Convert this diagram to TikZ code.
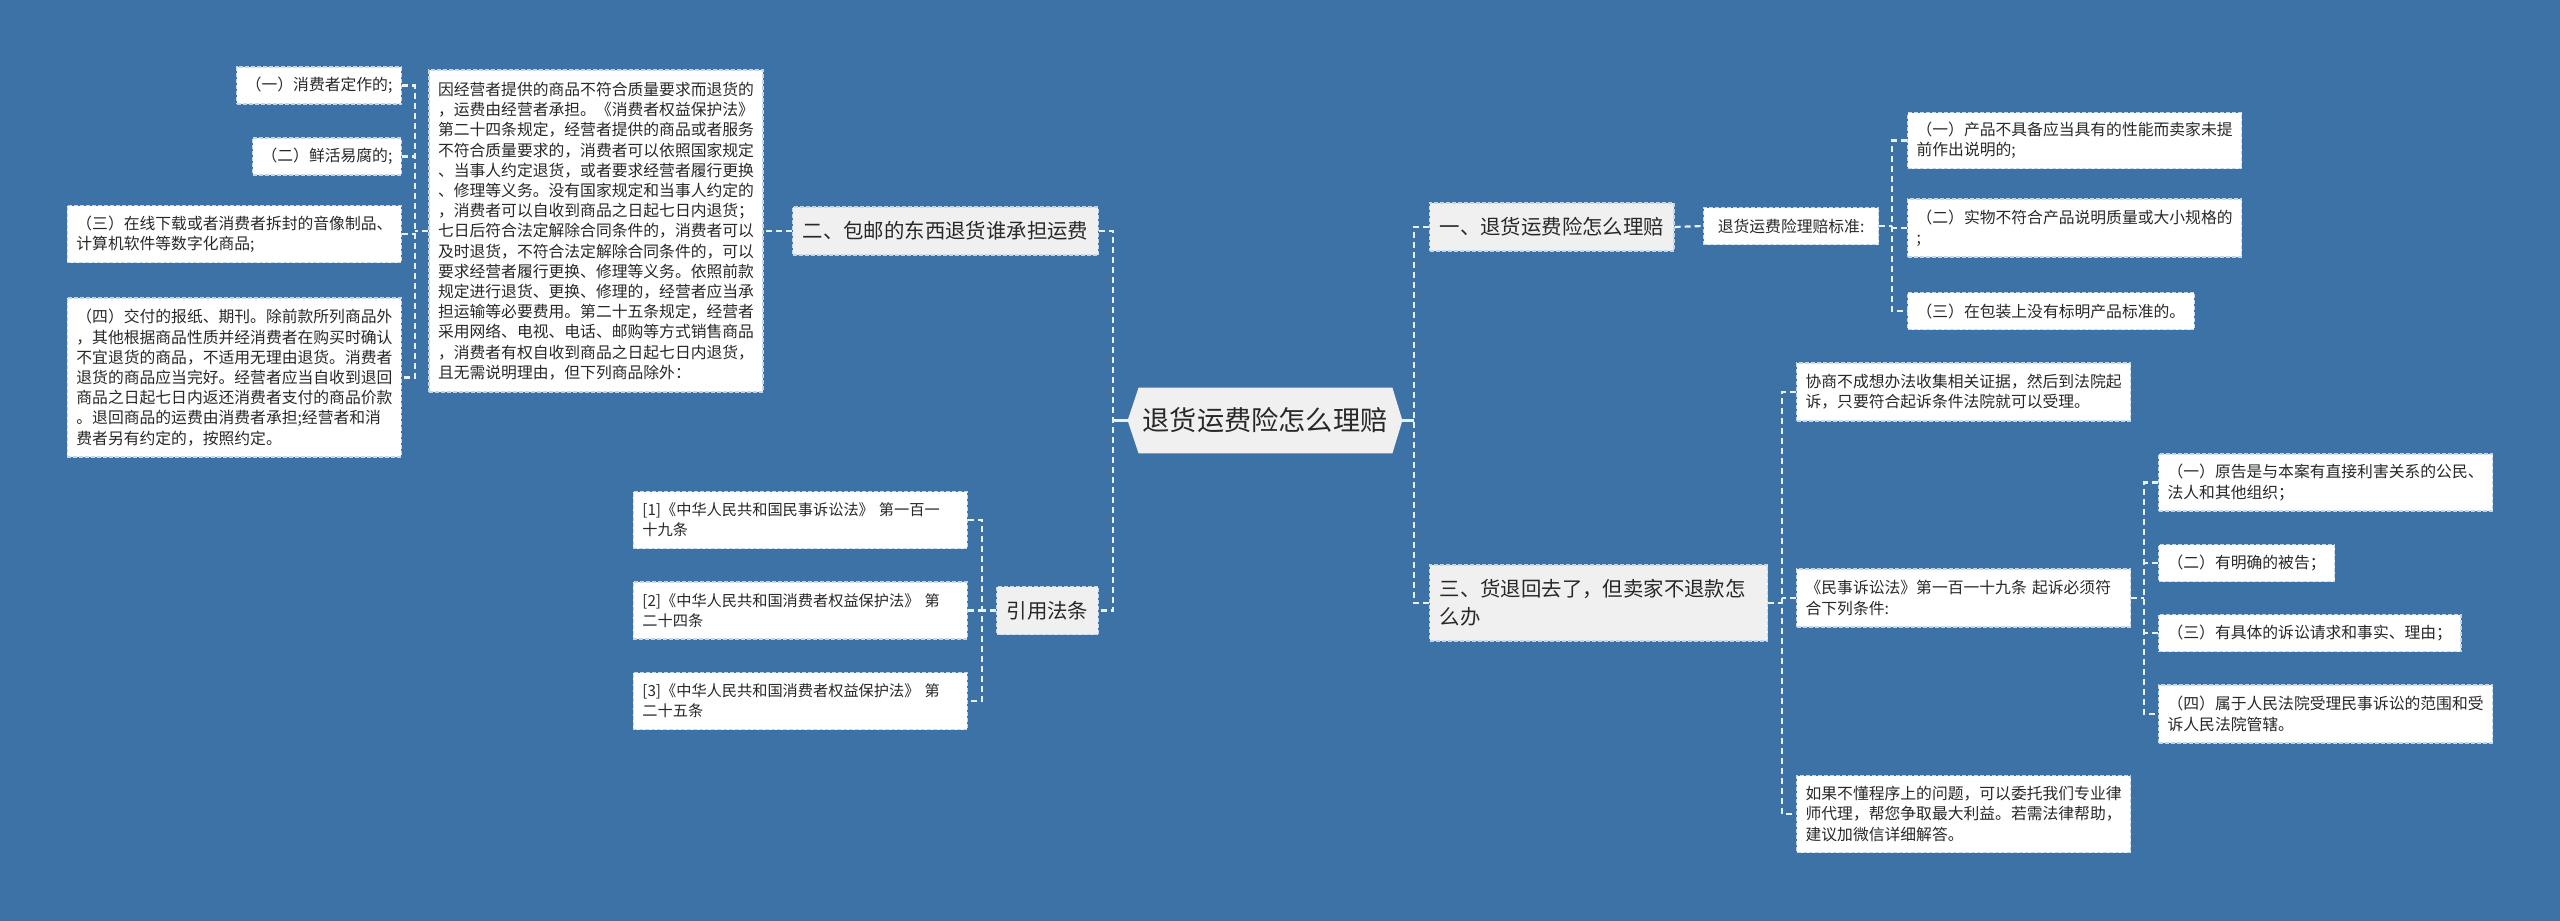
\documentclass[tikz,border=0pt]{standalone}
\usepackage{fontspec}
\newfontfamily\cjk{Noto Sans CJK SC}
\usetikzlibrary{positioning,backgrounds,calc}

\begin{document}
\begin{tikzpicture}[
    x=0.5pt, y=-0.5pt,
    font=\cjk,
    leaf/.style={draw=edgec, dash pattern=on 2pt off 1pt, line width=0.6pt, fill=white, text=inkc, inner xsep=4.5pt, inner ysep=3pt, minimum height=18.5pt, align=left, font=\cjk\fontsize{7.9}{10.1}\selectfont},
    topic/.style={draw=edgec, dash pattern=on 2pt off 1pt, line width=0.6pt, fill=topc, text=inkc, inner xsep=5pt, inner ysep=3pt, minimum height=24pt, align=left, font=\cjk\fontsize{10.2}{14}\selectfont},
    link/.style={draw=linkc, line width=1.1pt, dash pattern=on 3pt off 2pt},
    stem/.style={draw=linkc, line width=1.1pt}
  ]
    \definecolor{bgc}{RGB}{61,114,167}
    \definecolor{edgec}{RGB}{196,214,232}
    \definecolor{linkc}{RGB}{232,240,248}
    \definecolor{topc}{RGB}{240,240,240}
    \definecolor{inkc}{RGB}{40,40,40}

    \useasboundingbox (0,0) rectangle (2560,921);

    \node[font=\cjk\fontsize{13.6}{16}\selectfont, text=inkc, minimum width=137pt, minimum height=32.5pt, inner sep=0pt] (root) at (1265,420.5) {退货运费险怎么理赔};

    % left branch
    \coordinate (trunkL) at (1113,0);
    \coordinate (busL) at (415,0);
    \coordinate (busR) at (982,0);
    \node[topic] (pack) at (945.5,231) {二、包邮的东西退货谁承担运费};
    \node[leaf, text width=158pt, minimum height=161pt] (rule) at (596,231) {因经营者提供的商品不符合质量要求而退货的\\，运费由经营者承担。《消费者权益保护法》\\第二十四条规定，经营者提供的商品或者服务\\不符合质量要求的，消费者可以依照国家规定\\、当事人约定退货，或者要求经营者履行更换\\、修理等义务。没有国家规定和当事人约定的\\，消费者可以自收到商品之日起七日内退货；\\七日后符合法定解除合同条件的，消费者可以\\及时退货，不符合法定解除合同条件的，可以\\要求经营者履行更换、修理等义务。依照前款\\规定进行退货、更换、修理的，经营者应当承\\担运输等必要费用。第二十五条规定，经营者\\采用网络、电视、电话、邮购等方式销售商品\\，消费者有权自收到商品之日起七日内退货，\\且无需说明理由，但下列商品除外：};
    \node[leaf, anchor=east] (ex1) at (402,85.5) {（一）消费者定作的;};
    \node[leaf, anchor=east] (ex2) at (402,156.5) {（二）鲜活易腐的;};
    \node[leaf, anchor=east, text width=158pt, minimum height=28.5pt] (ex3) at (402,234) {（三）在线下载或者消费者拆封的音像制品、\\计算机软件等数字化商品;};
    \node[leaf, anchor=east, text width=158pt, minimum height=79.5pt] (ex4) at (402,377.5) {（四）交付的报纸、期刊。除前款所列商品外\\，其他根据商品性质并经消费者在购买时确认\\不宜退货的商品，不适用无理由退货。消费者\\退货的商品应当完好。经营者应当自收到退回\\商品之日起七日内返还消费者支付的商品价款\\。退回商品的运费由消费者承担;经营者和消\\费者另有约定的，按照约定。};

    \node[topic] (law) at (1047.5,610.5) {引用法条};
    \node[leaf, anchor=east, text width=158pt, minimum height=28.5pt, font=\cjk\fontsize{7.6}{10.1}\selectfont] (ref1) at (968,520) {[1]《中华人民共和国民事诉讼法》~第一百一\\十九条};
    \node[leaf, anchor=east, text width=158pt, minimum height=28.5pt, font=\cjk\fontsize{7.6}{10.1}\selectfont] (ref2) at (968,610.5) {[2]《中华人民共和国消费者权益保护法》~第\\二十四条};
    \node[leaf, anchor=east, text width=158pt, minimum height=28.5pt, font=\cjk\fontsize{7.6}{10.1}\selectfont] (ref3) at (968,701) {[3]《中华人民共和国消费者权益保护法》~第\\二十五条};

    \draw[stem] (root.west) -- (root.west -| trunkL);
    \draw[link] (pack.east) -- (pack.east -| trunkL) -- (law.east -| trunkL) -- (law.east);
    \draw[link] (pack.west) -- (rule.east);
    \draw[link] (rule.west) -- (rule.west -| busL);
    \draw[link] (ex1.east) -- (ex1.east -| busL) -- (ex4.east -| busL) -- (ex4.east);
    \draw[link] (ex2.east) -- (ex2.east -| busL);
    \draw[link] (ex3.east) -- (ex3.east -| busL);
    \draw[link] (law.west) -- (law.west -| busR);
    \draw[link] (ref1.east) -- (ref1.east -| busR) -- (ref3.east -| busR) -- (ref3.east);
    \draw[link] (ref2.east) -- (ref2.east -| busR);

    % right branch
    \coordinate (trunkR) at (1414,0);
    \coordinate (busS) at (1892,0);
    \coordinate (busT) at (1782,0);
    \coordinate (busU) at (2144,0);
    \node[topic, anchor=west] (claim) at (1429,227) {一、退货运费险怎么理赔};
    \node[leaf, anchor=west, minimum width=87.5pt] (std) at (1703,226) {退货运费险理赔标准:};
    \node[leaf, anchor=west, text width=158pt, minimum height=28pt] (std1) at (1907,140.5) {（一）产品不具备应当具有的性能而卖家未提\\前作出说明的;};
    \node[leaf, anchor=west, text width=158pt, minimum height=29pt] (std2) at (1907,228) {（二）实物不符合产品说明质量或大小规格的\\;};
    \node[leaf, anchor=west] (std3) at (1907,311) {（三）在包装上没有标明产品标准的。};

    \node[topic, anchor=west, text width=159pt, minimum height=38pt] (refuse) at (1429,603) {三、货退回去了，但卖家不退款怎\\么办};
    \node[leaf, anchor=west, text width=158pt, minimum height=29pt] (sue1) at (1796,392) {协商不成想办法收集相关证据，然后到法院起\\诉，只要符合起诉条件法院就可以受理。};
    \node[leaf, anchor=west, text width=158pt, minimum height=29pt] (sue2) at (1796,598) {《民事诉讼法》第一百一十九条~起诉必须符\\合下列条件:};
    \node[leaf, anchor=west, text width=158pt, minimum height=38.5pt] (sue3) at (1796,814) {如果不懂程序上的问题，可以委托我们专业律\\师代理，帮您争取最大利益。若需法律帮助，\\建议加微信详细解答。};
    \node[leaf, anchor=west, text width=158pt, minimum height=28.5pt] (cond1) at (2158,482.5) {（一）原告是与本案有直接利害关系的公民、\\法人和其他组织；};
    \node[leaf, anchor=west] (cond2) at (2158,563) {（二）有明确的被告；};
    \node[leaf, anchor=west] (cond3) at (2158,633) {（三）有具体的诉讼请求和事实、理由；};
    \node[leaf, anchor=west, text width=158pt, minimum height=29pt] (cond4) at (2158,714) {（四）属于人民法院受理民事诉讼的范围和受\\诉人民法院管辖。};

    \draw[stem] (root.east) -- (root.east -| trunkR);
    \draw[link] (claim.west) -- (claim.west -| trunkR) -- (refuse.west -| trunkR) -- (refuse.west);
    \draw[link] (claim.east) -- (std.west);
    \draw[link] (std.east) -- (std.east -| busS);
    \draw[link] (std1.west) -- (std1.west -| busS) -- (std3.west -| busS) -- (std3.west);
    \draw[link] (std2.west) -- (std2.west -| busS);
    \draw[link] (refuse.east) -- (refuse.east -| busT);
    \draw[link] (sue1.west) -- (sue1.west -| busT) -- (sue3.west -| busT) -- (sue3.west);
    \draw[link] (sue2.west) -- (sue2.west -| busT);
    \draw[link] (sue2.east) -- (sue2.east -| busU);
    \draw[link] (cond1.west) -- (cond1.west -| busU) -- (cond4.west -| busU) -- (cond4.west);
    \draw[link] (cond2.west) -- (cond2.west -| busU);
    \draw[link] (cond3.west) -- (cond3.west -| busU);

    \begin{scope}[on background layer]
      \fill[bgc] (0,0) rectangle (2560,921);
      \fill[topc] ([xshift=5.5pt]root.north west) -- ([xshift=-5pt]root.north east) -- (root.east) -- ([xshift=-5pt]root.south east) -- ([xshift=5.5pt]root.south west) -- (root.west) -- cycle;
    \end{scope}
  \end{tikzpicture}
\end{document}
